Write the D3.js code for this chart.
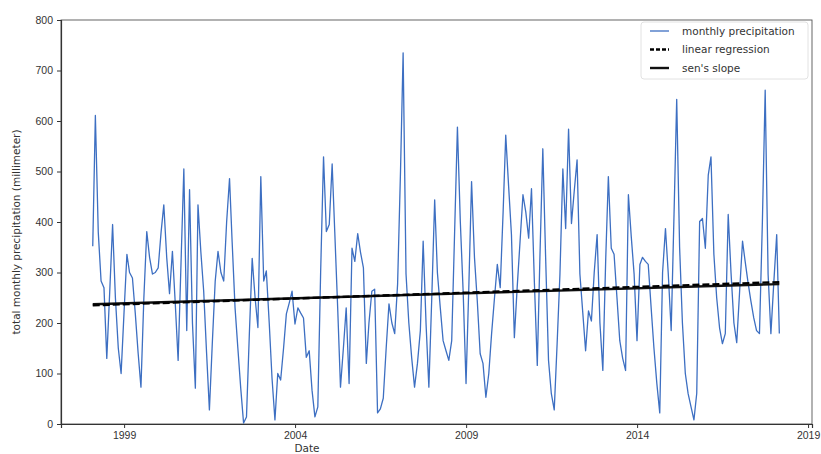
<!DOCTYPE html>
<html>
<head>
<meta charset="utf-8">
<script src="https://cdn.jsdelivr.net/npm/d3@7"></script>
<style>
  html, body { margin: 0; padding: 0; background: #fff; }
  svg { display: block; font-family: "DejaVu Sans", sans-serif; }
</style>
</head>
<body>
<svg id="chart" width="821" height="454"></svg>
<script>
// Monthly precipitation totals (mm), one value per month starting January 1998
const startYear = 1998;
const precipitation = [
  352, 611, 380, 283, 270, 130, 260, 395, 250, 150, 100, 220,
  336, 300, 289, 220, 140, 73, 250, 381, 330, 297, 300, 309,
  380, 434, 330, 258, 342, 240, 126, 320, 505, 185, 464, 200,
  71, 434, 340, 263, 140, 28, 160, 283, 342, 300, 283, 400,
  486, 360, 230, 150, 70, 2, 14, 180, 328, 250, 191, 490,
  283, 303, 200, 90, 8, 100, 87, 150, 218, 240, 263, 198,
  230, 220, 210, 132, 145, 67, 14, 34, 300, 529, 381, 395,
  515, 380, 230, 73, 150, 230, 80, 348, 322, 377, 340, 309,
  120, 200, 263, 267, 22, 30, 51, 150, 238, 200, 179, 277,
  500, 735, 297, 200, 130, 73, 120, 185, 362, 198, 73, 250,
  444, 300, 230, 165, 145, 126, 165, 380, 588, 400, 263, 80,
  280, 480, 330, 244, 139, 120, 53, 100, 179, 250, 316, 270,
  420, 572, 470, 375, 171, 270, 362, 454, 420, 368, 466, 280,
  116, 330, 545, 330, 126, 60, 28, 160, 297, 505, 387, 584,
  397, 460, 523, 297, 220, 145, 224, 204, 300, 375, 200, 106,
  328, 490, 348, 336, 250, 165, 130, 106, 454, 370, 297, 165,
  316, 330, 322, 316, 230, 150, 80, 22, 300, 387, 297, 185,
  420, 643, 350, 200, 100, 60, 34, 8, 61, 401, 407, 348,
  493, 529, 336, 250, 190, 159, 179, 415, 300, 200, 161, 263,
  362, 322, 280, 244, 210, 185, 179, 400, 661, 297, 179, 280,
  375, 179
];

// Trend lines: fitted value at the first and at the last month
const linearFit = [235, 281];
const sensFit = [237, 277];

const yTicks = [0, 100, 200, 300, 400, 500, 600, 700, 800];
const xTickYears = [1999, 2004, 2009, 2014, 2019];
const legendLabels = ["monthly precipitation", "linear regression", "sen's slope"];
const xLabel = "Date";
const yLabel = "total monthly precipitation (millimeter)";

// month-end dates for each observation
const dates = precipitation.map((_, i) => new Date(startYear, i + 1, 0));
const series = dates.map((d, i) => ({ date: d, value: precipitation[i] }));

const svg = d3.select("#chart");
const plot = { left: 61, right: 812, top: 20, bottom: 424 };

const x = d3.scaleTime()
  .domain([new Date(1997, 1, 26), new Date(2019, 1, 12)])
  .range([plot.left, plot.right]);
const y = d3.scaleLinear()
  .domain([0, 800])
  .range([plot.bottom, plot.top]);

// frame
svg.append("rect")
  .attr("x", plot.left).attr("y", plot.top)
  .attr("width", plot.right - plot.left).attr("height", plot.bottom - plot.top)
  .attr("fill", "none").attr("stroke", "#555").attr("stroke-width", 0.9);

// axes
const xAxis = d3.axisBottom(x)
  .tickValues(xTickYears.map(yr => new Date(yr, 0, 1)))
  .tickFormat(d3.timeFormat("%Y"))
  .tickSize(4).tickPadding(4);
const yAxis = d3.axisLeft(y)
  .tickValues(yTicks)
  .tickSize(4).tickPadding(4);

const gx = svg.append("g").attr("transform", `translate(0,${plot.bottom})`).call(xAxis);
const gy = svg.append("g").attr("transform", `translate(${plot.left},0)`).call(yAxis);
[gx, gy].forEach(g => {
  g.select(".domain").attr("stroke", "#333").attr("stroke-width", 1.2);
  g.selectAll(".tick line").attr("stroke", "#333");
  g.selectAll(".tick text").attr("fill", "#333").style("font-size", "10.5px");
});

// axis titles
svg.append("text")
  .attr("x", 307).attr("y", 452)
  .attr("text-anchor", "middle")
  .attr("fill", "#333").style("font-size", "10.5px")
  .text(xLabel);
svg.append("text")
  .attr("transform", `translate(20,${(plot.top + plot.bottom) / 2 + 10}) rotate(-90)`)
  .attr("text-anchor", "middle")
  .attr("fill", "#333").style("font-size", "10.5px")
  .text(yLabel);

// precipitation series
const line = d3.line().x(d => x(d.date)).y(d => y(d.value));
svg.append("path")
  .datum(series)
  .attr("fill", "none")
  .attr("stroke", "#3d6fc2")
  .attr("stroke-width", 1.3)
  .attr("stroke-linejoin", "round")
  .attr("d", line);

// trend lines across the observation period
const first = dates[0], last = dates[dates.length - 1];
const trend = v => [{ date: first, value: v[0] }, { date: last, value: v[1] }];
svg.append("path")
  .datum(trend(sensFit))
  .attr("fill", "none").attr("stroke", "#111").attr("stroke-width", 2.4)
  .attr("d", line);
svg.append("path")
  .datum(trend(linearFit))
  .attr("fill", "none").attr("stroke", "#000").attr("stroke-width", 2.4)
  .attr("stroke-dasharray", "7,3")
  .attr("d", line);

// legend
const legend = svg.append("g").attr("transform", "translate(641,22)");
legend.append("rect")
  .attr("x", 0).attr("y", 0).attr("width", 167).attr("height", 57)
  .attr("rx", 3).attr("fill", "#fff").attr("stroke", "#e2e2e2");
const legendStyles = [
  { stroke: "#3d6fc2", width: 1.3, dash: null },
  { stroke: "#000", width: 2.4, dash: "4,2" },
  { stroke: "#111", width: 2.4, dash: null }
];
legendLabels.forEach((label, i) => {
  const yy = 9 + i * 18.5;
  const s = legendStyles[i];
  legend.append("line")
    .attr("x1", 9).attr("x2", 28).attr("y1", yy).attr("y2", yy)
    .attr("stroke", s.stroke).attr("stroke-width", s.width)
    .attr("stroke-dasharray", s.dash);
  legend.append("text")
    .attr("x", 41).attr("y", yy + 3.8)
    .attr("fill", "#333").style("font-size", "10.5px")
    .text(label);
});
</script>
</body>
</html>
